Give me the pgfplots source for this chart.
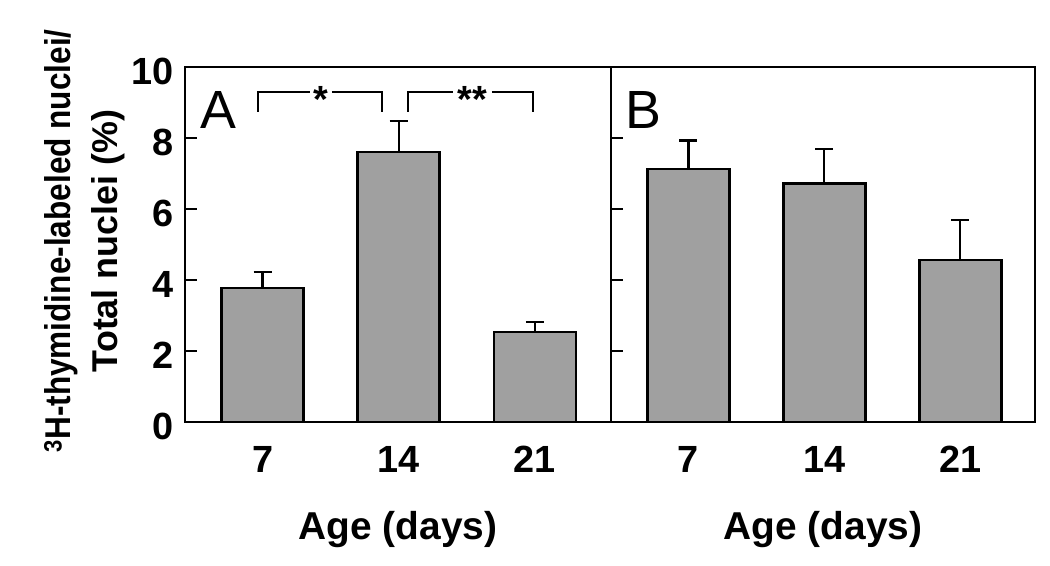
\documentclass[border=0pt]{standalone}
\usepackage{pgfplots}
\pgfplotsset{compat=1.18}
\usepackage{fontspec}
\setmainfont{Liberation Sans}
\definecolor{barfill}{HTML}{A0A0A0}
\pgfplotstableread{
x y e
1 3.77 0.46
2 7.60 0.87
3 2.53 0.28
}\dataA
\pgfplotstableread{
x y e
1 7.13 0.80
2 6.72 0.97
3 4.56 1.12
}\dataB
\begin{document}
\begin{tikzpicture}[x=1bp,y=1bp]
\useasboundingbox (0,0) rectangle (1050,566);
\pgfplotsset{
  panel/.style={
    scale only axis, height=355bp, anchor=south west,
    xmin=0.43, ymin=0, ymax=10,
    axis line style={line width=2bp},
    xtick={1,2,3}, xticklabels={7,14,21},
    ytick={0,2,4,6,8,10},
    ytick pos=left, tick align=inside, major tick length=12bp,
    major tick style={line width=2bp, black},
    x tick style={draw=none},
    ticklabel style={font=\fontsize{38}{38}\selectfont\bfseries, inner sep=0pt},
    xticklabel style={anchor=north, yshift=-24bp},
    yticklabel style={anchor=east, xshift=-11bp, yshift=-4bp},
    xlabel={Age (days)},
    xlabel style={font=\fontsize{39}{39}\selectfont\bfseries, at={(axis description cs:0.5,0)}, anchor=north, yshift=-89bp, inner sep=0pt},
    clip=false,
    every error bar/.style={line width=2.2bp, black, solid},
    error bars/error mark options={rotate=90, line width=2.2bp, mark size=9bp, black, solid},
  },
  mybar/.style={ybar, bar width=82bp, fill=barfill, draw=black, line width=2.5bp},
}
% Panel A
\begin{axis}[panel, at={(185bp,144bp)}, width=426bp, xmax=3.56,
  yticklabels={0,2,4,6,8,10},
  ylabel={\scalebox{0.88}[1]{\textsuperscript{3}H-thymidine-labeled nuclei/}\\Total nuclei (\%)},
  ylabel style={align=center, font=\fontsize{36}{47}\selectfont\bfseries,
    at={(axis description cs:-0.1408,0.51)}, anchor=south, inner sep=0pt},
]
\addplot[mybar, error bars/.cd, y dir=plus, y explicit]
  table[x=x, y=y, y error=e] {\dataA};
\node[anchor=base west, inner sep=0pt, font=\fontsize{54}{54}\selectfont] at (rel axis cs:0.035,0.828) {A};
\draw[line width=2bp] (axis cs:0.963,8.74) -- (axis cs:0.963,9.3) -- (axis cs:1.349,9.3);
\draw[line width=2bp] (axis cs:1.509,9.3) -- (axis cs:1.88,9.3) -- (axis cs:1.88,8.74);
\draw[line width=2bp] (axis cs:2.07,8.74) -- (axis cs:2.07,9.3) -- (axis cs:2.402,9.3);
\draw[line width=2bp] (axis cs:2.685,9.3) -- (axis cs:2.99,9.3) -- (axis cs:2.99,8.74);
\node[anchor=base, inner sep=0pt, font=\fontsize{38}{38}\selectfont\bfseries, yshift=-21bp] at (axis cs:1.43,9.3) {*};
\node[anchor=base, inner sep=0pt, font=\fontsize{38}{38}\selectfont\bfseries, yshift=-21bp] at (axis cs:2.543,9.3) {**};
\end{axis}
% Panel B
\begin{axis}[panel, at={(611bp,144bp)}, width=424bp, xmax=3.55,
  yticklabels={},
]
\addplot[mybar, error bars/.cd, y dir=plus, y explicit]
  table[x=x, y=y, y error=e] {\dataB};
\node[anchor=base west, inner sep=0pt, font=\fontsize{54}{54}\selectfont] at (rel axis cs:0.033,0.828) {B};
\end{axis}
\end{tikzpicture}
\end{document}
